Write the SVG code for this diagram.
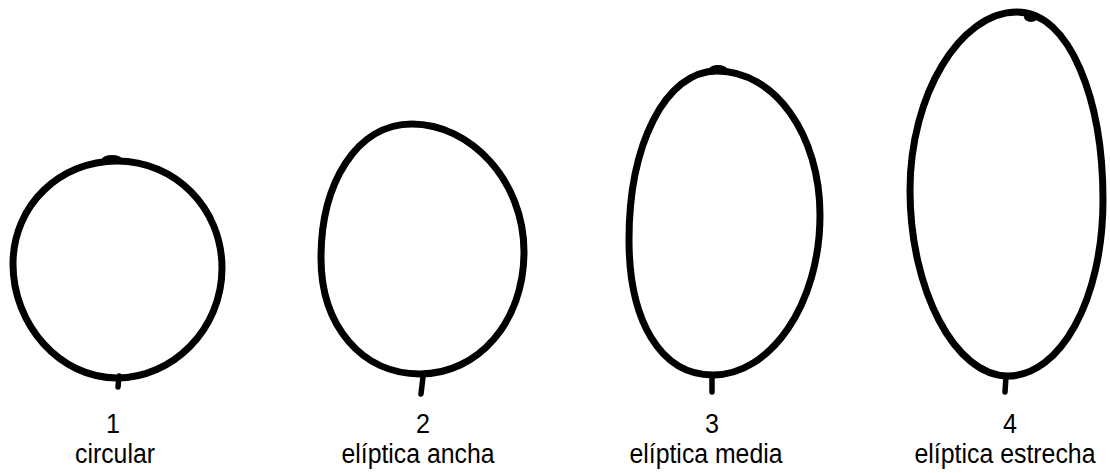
<svg xmlns="http://www.w3.org/2000/svg" width="1110" height="473" viewBox="0 0 1110 473">
<style>
.outline{fill:none;stroke:#000;stroke-width:7;stroke-linejoin:round}
.stem{fill:none;stroke:#000;stroke-width:5.5;stroke-linecap:round}
.num{font-family:"Liberation Sans",Arial,sans-serif;font-size:27px;fill:#000;text-anchor:middle}
.lbl{font-family:"Liberation Sans",Arial,sans-serif;font-size:27px;fill:#000;text-anchor:middle}
</style>
<rect width="1110" height="473" fill="#fff"/>
<g id="shape1">
<path class="outline" d="M117,161 C175,161 222,208 222,268 C222,330 172,378 117,378 C60,378 13,325 13,264 C13,205 60,161 117,161 Z"/>
<ellipse cx="112" cy="159" rx="10" ry="4" fill="#000"/>
<line class="stem" x1="119" y1="376" x2="118" y2="387"/>
<text class="num" x="113" y="433" textLength="14" lengthAdjust="spacingAndGlyphs">1</text>
<text class="lbl" x="115" y="463" textLength="80" lengthAdjust="spacingAndGlyphs">circular</text>
</g>
<g id="shape2">
<path class="outline" d="M412,124 C470,124 524,180 524,252 C524,322 478,374 420,374 C362,374 321,326 321,258 C321,184 356,124 412,124 Z"/>
<line class="stem" x1="423" y1="377" x2="421" y2="394"/>
<text class="num" x="423" y="433" textLength="14" lengthAdjust="spacingAndGlyphs">2</text>
<text class="lbl" x="418" y="463" textLength="153" lengthAdjust="spacingAndGlyphs">elíptica ancha</text>
</g>
<g id="shape3">
<path class="outline" d="M717,71 C775,71 820,135 820,215 C820,305 770,375 713,375 C660,375 629,320 629,240 C629,145 665,71 717,71 Z"/>
<ellipse cx="718" cy="69" rx="9" ry="4" fill="#000"/>
<line class="stem" x1="712" y1="375" x2="712" y2="392"/>
<text class="num" x="712" y="433" textLength="14" lengthAdjust="spacingAndGlyphs">3</text>
<text class="lbl" x="706" y="463" textLength="153" lengthAdjust="spacingAndGlyphs">elíptica media</text>
</g>
<g id="shape4">
<path class="outline" d="M1017,12 C1070,12 1103,100 1103,200 C1103,300 1060,376 1008,376 C955,376 910,290 910,190 C910,95 960,12 1017,12 Z"/>
<ellipse cx="1031" cy="17" rx="7" ry="5" fill="#000"/>
<line class="stem" x1="1006" y1="376" x2="1005" y2="392"/>
<text class="num" x="1010" y="433" textLength="14" lengthAdjust="spacingAndGlyphs">4</text>
<text class="lbl" x="1005" y="463" textLength="181" lengthAdjust="spacingAndGlyphs">elíptica estrecha</text>
</g>
<g id="connectors"/>
</svg>
